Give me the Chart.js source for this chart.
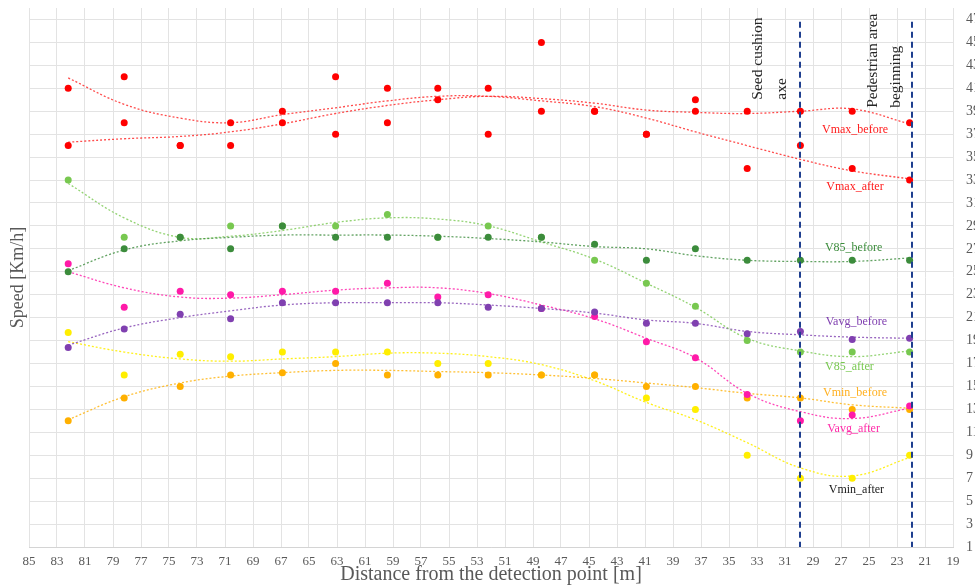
<!DOCTYPE html>
<html>
<head>
<meta charset="utf-8">
<script src="https://cdn.jsdelivr.net/npm/chart.js@4.4.1/dist/chart.umd.min.js"></script>
<style>
  body { margin: 0; background: #fff; overflow: hidden; }
  #wrap { width: 975px; height: 585px; }
</style>
</head>
<body>
<div id="wrap"><canvas id="speed"></canvas></div>
<script>
// distance of each measuring point [m]
var distances = [82.2, 78.2, 74.2, 70.6, 66.9, 63.1, 59.4, 55.8, 52.2, 48.4, 44.6, 40.9, 37.4, 33.7, 29.9, 26.2, 22.1];
var speedTicks = [1, 3, 5, 7, 9, 11, 13, 15, 17, 19, 21, 23, 25, 27, 29, 31, 33, 35, 37, 39, 41, 43, 45, 47];

// measured speeds [km/h]
var vmaxBefore = [36, 38, 36, 36, 38, 37, 38, 40, 37, 39, 39, 37, 40, 39, 39, 39, 38];
var vmaxAfter  = [41, 42, 36, 38, 39, 42, 41, 41, 41, 45, 39, 37, 39, 34, 36, 34, 33];
var v85Before  = [25, 27, 28, 27, 29, 28, 28, 28, 28, 28, 27.4, 26, 27, 26, 26, 26, 26];
var v85After   = [33, 28, 28, 29, 29, 29, 30, 28, 29, 28, 26, 24, 22, 19, 18, 18, 18];
var vavgBefore = [18.4, 20, 21.3, 20.9, 22.3, 22.3, 22.3, 22.3, 21.9, 21.8, 21.5, 20.5, 20.5, 19.6, 19.8, 19.1, 19.2];
var vavgAfter  = [25.7, 21.9, 23.3, 23, 23.3, 23.3, 24, 22.8, 23, 21.8, 21.1, 18.9, 17.5, 14.3, 12, 12.5, 13.3];
var vminBefore = [12, 14, 15, 16, 16.2, 17, 16, 16, 16, 16, 16, 15, 15, 14, 14, 13, 13];
var vminAfter  = [19.7, 16, 17.8, 17.6, 18, 18, 18, 17, 17, 16, 16, 14, 13, 9, 7, 7, 9];

// trend curves at the same distances
var vmaxBeforeTrend = [36.3, 36.6, 36.8, 37.2, 37.9, 38.8, 39.5, 40.0, 40.3, 40.1, 39.7, 39.1, 38.9, 38.8, 39.0, 39.2, 37.9];
var vmaxAfterTrend  = [41.9, 39.6, 38.4, 38.0, 38.7, 39.3, 39.9, 40.3, 40.3, 39.9, 39.4, 38.4, 37.2, 36.0, 34.8, 33.8, 33.1];
var v85BeforeTrend  = [25.1, 26.9, 27.7, 28.0, 28.2, 28.2, 28.2, 28.1, 27.9, 27.6, 27.2, 27.0, 26.4, 26.0, 25.9, 25.9, 26.2];
var v85AfterTrend   = [32.7, 29.7, 28.0, 28.1, 28.6, 29.3, 29.7, 29.6, 29.0, 27.6, 26.1, 24.0, 21.9, 19.2, 18.1, 17.6, 18.1];
var vavgBeforeTrend = [18.6, 20.1, 21.0, 21.6, 22.1, 22.3, 22.3, 22.3, 22.1, 21.8, 21.4, 20.8, 20.5, 19.8, 19.5, 19.3, 19.2];
var vavgAfterTrend  = [25.0, 23.6, 22.8, 22.7, 23.0, 23.4, 23.6, 23.6, 23.1, 22.1, 20.9, 19.2, 17.5, 14.4, 12.8, 12.2, 13.1];
var vminBeforeTrend = [12.1, 14.1, 15.3, 15.9, 16.2, 16.4, 16.4, 16.3, 16.2, 16.0, 15.7, 15.3, 14.9, 14.4, 14.0, 13.4, 13.1];
var vminAfterTrend  = [18.9, 18.0, 17.4, 17.2, 17.4, 17.6, 17.9, 17.9, 17.6, 16.9, 15.5, 13.6, 12.1, 10.1, 7.9, 7.2, 8.8];

// vertical markers [m]
var markerDistances = [29.9, 21.9];

var serif = '"Liberation Serif", "DejaVu Serif", serif';
var grey = '#595959';

function pts(vals) {
    return distances.map(function (d, i) { return { x: d, y: vals[i] }; });
}

function dots(name, vals, color) {
    return { label: name, data: pts(vals), backgroundColor: color, borderColor: color,
             pointRadius: 3.5, borderWidth: 0, showLine: false };
}

function trend(name, vals, color) {
    return { label: name + ' trend', data: pts(vals), borderColor: color, backgroundColor: color,
             showLine: true, pointRadius: 0, borderWidth: 1.3, borderDash: [2, 2], tension: 0.4, fill: false };
}

// text placed on the plot, in axis units
var seriesNames = [
    { text: 'Vmax_before', x: 26.0, y: 37.4, color: '#ff1a1a' },
    { text: 'Vmax_after',  x: 26.0, y: 32.4, color: '#ff1a1a' },
    { text: 'V85_before',  x: 26.1, y: 27.1, color: '#3c8c3c' },
    { text: 'Vavg_before', x: 25.9, y: 20.6, color: '#8040b0' },
    { text: 'V85_after',   x: 26.4, y: 16.7, color: '#78c850' },
    { text: 'Vmin_before', x: 26.0, y: 14.4, color: '#ffb020' },
    { text: 'Vavg_after',  x: 26.1, y: 11.3, color: '#ff2aa8' },
    { text: 'Vmin_after',  x: 25.9, y: 6.0,  color: '#1a1a1a' }
];
var markerNotes = [
    { text: 'Seed cushion',    x: 32.9, y: 40.0 },
    { text: 'axe',             x: 31.2, y: 40.0 },
    { text: 'Pedestrian area', x: 24.7, y: 39.3 },
    { text: 'beginning',       x: 23.1, y: 39.3 }
];

var notes = {
    id: 'notes',
    afterDatasetsDraw: function (chart) {
        var ctx = chart.ctx, area = chart.chartArea;
        var x = chart.scales.x, y = chart.scales.y;
        ctx.save();
        ctx.strokeStyle = '#1f3f8f';
        ctx.lineWidth = 2;
        ctx.setLineDash([6, 4]);
        markerDistances.forEach(function (d) {
            var px = Math.round(x.getPixelForValue(d));
            ctx.beginPath();
            ctx.moveTo(px, y.getPixelForValue(46.8));
            ctx.lineTo(px, area.bottom);
            ctx.stroke();
        });
        ctx.setLineDash([]);

        ctx.font = '12px ' + serif;
        ctx.textAlign = 'center';
        ctx.textBaseline = 'middle';
        seriesNames.forEach(function (n) {
            ctx.fillStyle = n.color;
            ctx.fillText(n.text, x.getPixelForValue(n.x), y.getPixelForValue(n.y));
        });

        ctx.font = '15.5px ' + serif;
        ctx.fillStyle = '#262626';
        ctx.textAlign = 'left';
        markerNotes.forEach(function (n) {
            ctx.save();
            ctx.translate(x.getPixelForValue(n.x), y.getPixelForValue(n.y));
            ctx.rotate(-Math.PI / 2);
            ctx.fillText(n.text, 0, 0);
            ctx.restore();
        });
        ctx.restore();
    }
};

var ctx = document.getElementById('speed').getContext('2d');
var chart = new Chart(ctx, {
    type: 'scatter',
    data: {
        datasets: [
            dots('Vmax_before', vmaxBefore, '#ff0000'),
            dots('Vmax_after', vmaxAfter, '#ff0000'),
            dots('V85_before', v85Before, '#3c8c3c'),
            dots('V85_after', v85After, '#78c850'),
            dots('Vavg_before', vavgBefore, '#8040b0'),
            dots('Vavg_after', vavgAfter, '#ff1aa8'),
            dots('Vmin_before', vminBefore, '#ffb000'),
            dots('Vmin_after', vminAfter, '#ffee00'),
            trend('Vmax_before', vmaxBeforeTrend, 'rgba(255,30,30,0.8)'),
            trend('Vmax_after', vmaxAfterTrend, 'rgba(255,30,30,0.8)'),
            trend('V85_before', v85BeforeTrend, 'rgba(60,140,60,0.8)'),
            trend('V85_after', v85AfterTrend, 'rgba(120,200,80,0.8)'),
            trend('Vavg_before', vavgBeforeTrend, 'rgba(128,64,176,0.8)'),
            trend('Vavg_after', vavgAfterTrend, 'rgba(255,26,168,0.8)'),
            trend('Vmin_before', vminBeforeTrend, 'rgba(255,176,0,0.8)'),
            trend('Vmin_after', vminAfterTrend, 'rgba(255,238,0,0.9)')
        ]
    },
    options: {
        responsive: true,
        maintainAspectRatio: false,
        animation: false,
        layout: { padding: { top: 8, left: 0, right: 0, bottom: 0 } },
        plugins: {
            legend: { display: false },
            tooltip: { enabled: false }
        },
        scales: {
            x: {
                type: 'linear',
                reverse: true,
                min: 19,
                max: 85,
                ticks: { stepSize: 2, autoSkip: false, maxRotation: 0, padding: 3,
                         color: grey, font: { family: serif, size: 13 } },
                grid: { color: '#e3e3e3', tickLength: 4, tickColor: 'rgba(0,0,0,0)' },
                border: { color: '#d4d4d4' },
                title: { display: true, text: 'Distance from the detection point [m]', color: grey,
                         padding: 0, font: { family: serif, size: 20, lineHeight: 1 } },
                afterFit: function (s) { s.height = 38; }
            },
            y: {
                position: 'right',
                min: 1,
                max: 48,
                afterBuildTicks: function (s) {
                    s.ticks = speedTicks.map(function (v) { return { value: v }; });
                },
                ticks: { padding: 0, color: grey, font: { family: serif, size: 14, lineHeight: 1 } },
                grid: { color: '#e3e3e3', tickLength: 13, tickColor: 'rgba(0,0,0,0)' },
                border: { display: false },
                afterFit: function (s) { s.width = 22; }
            },
            yTitle: {
                type: 'linear',
                position: 'left',
                ticks: { display: false },
                grid: { display: false },
                border: { display: false },
                title: { display: true, text: 'Speed [Km/h]', color: grey,
                         padding: { top: 9.5, bottom: 0 }, font: { family: serif, size: 18, lineHeight: 1 } },
                afterFit: function (s) { s.width = 29; }
            }
        }
    },
    plugins: [notes]
});
</script>
</body>
</html>
